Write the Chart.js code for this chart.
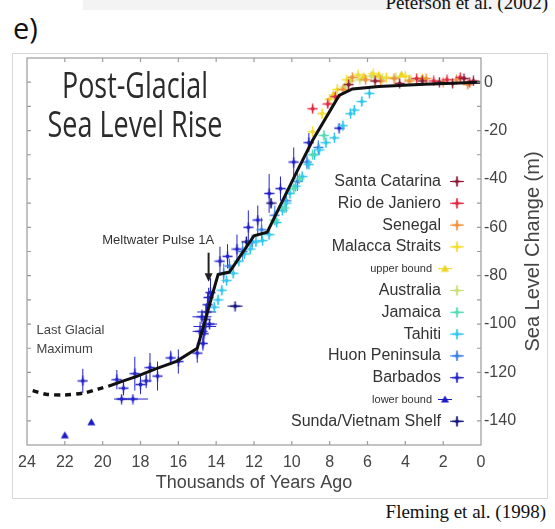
<!DOCTYPE html>
<html>
<head>
<meta charset="utf-8">
<script src="https://cdn.jsdelivr.net/npm/chart.js@4.4.1/dist/chart.umd.min.js"></script>
<style>
  html, body { margin: 0; padding: 0; background: #fff; }
  #wrap { position: relative; width: 555px; height: 529px; overflow: hidden; }
  #frame { position: absolute; left: 12px; top: 53px; width: 536px; height: 446px; border: 1px solid #d6d6d6; box-sizing: border-box; }
  #topband { position: absolute; left: 83px; top: 0; width: 465px; height: 10px; background: #f3f3f3; }
  .cap { position: absolute; font-family: 'Liberation Serif', serif; font-size: 19px; line-height: 1; color: #111; white-space: nowrap; }
  #peterson { right: 7px; top: -7px; }
  #fleming { right: 9px; top: 502px; }
  #panel { position: absolute; left: 13px; top: 13px; font-family: 'Open Sans', sans-serif; font-size: 29px; line-height: 1; color: #111; }
  #chartbox { position: absolute; left: 0; top: 0; width: 555px; height: 529px; }
</style>
</head>
<body>
<div id="wrap">
  <div id="topband"></div>
  <div class="cap" id="peterson">Peterson et al. (2002)</div>
  <div id="panel">e)</div>
  <div id="frame"></div>
  <div class="cap" id="fleming">Fleming et al. (1998)</div>
  <div id="chartbox"><canvas id="chart"></canvas></div>
</div>
<script>
// ages in thousands of years ago, levels in metres: [age, level, levelError, ageError]
const santaCatarina = [[7.0, -1, 1], [5.6, 0.5, 1], [4.3, -0.5, 1], [3.1, 0.5, 1], [2.2, 0, 1], [1.5, -0.5, 1], [0.9, 1.5, 1], [0.4, 0.5, 1]];
const rioDeJaniero = [[8.9, -11, 1.5], [8.1, -9, 1.5], [7.7, -6, 1.5], [3.4, 1.5, 1], [2.5, 0.5, 1], [1.8, 1, 1], [1.1, 2, 1], [0.6, 0, 1]];
const senegal = [[7.3, -3, 1], [6.8, 2, 1], [6.1, 1, 1], [5.3, 0.5, 1], [4.6, 1.5, 1], [3.8, 0.5, 1], [2.9, 1.5, 1], [2.0, 0, 1], [1.3, 1, 1], [0.7, -1, 1]];
const malaccaStraits = [[8.9, -20.5, 2], [8.4, -13, 2], [8.0, -7, 2], [7.6, -3, 2], [7.1, 1, 1], [6.5, 3, 1], [5.7, 3.5, 1], [5.0, 2, 1], [4.0, 2.5, 1]];
const upperBound = [[7.8, -5], [6.2, 2.5], [5.4, 3], [4.2, 3.2], [3.1, 2]];
const australia = [[7.2, -2, 1], [6.9, 0.5, 1], [6.4, 1, 1], [5.8, 2.5, 1], [5.2, 1.5, 1], [4.5, 2, 1], [3.7, 1, 1]];
const jamaica = [[10.9, -57, 2], [10.4, -52, 2], [9.9, -44, 2], [9.6, -40, 2], [8.9, -30, 2], [8.3, -22, 2]];
const tahiti = [[14.1, -93, 2], [13.9, -90, 2], [13.7, -86, 2], [13.45, -82, 2], [13.1, -79, 2], [12.8, -74, 2], [12.5, -71, 2],
  [12.2, -69, 2], [11.9, -66, 2], [11.55, -65.5, 2], [11.2, -63, 2], [10.8, -58, 2], [10.5, -53, 2], [10.3, -50, 2],
  [10.1, -46, 2], [9.8, -43, 2], [9.45, -39, 2], [9.1, -34, 2], [8.8, -30, 2], [8.55, -28, 2], [8.2, -25, 2],
  [7.75, -23, 2], [7.3, -18, 2], [6.9, -13, 2], [6.7, -11.5, 2], [6.3, -8, 2], [5.9, -4.6, 2]];
const huonPeninsula = [[13.6, -79, 4], [13.3, -76, 3], [12.6, -70, 4], [12.1, -66, 3], [11.6, -61, 5], [10.9, -55, 4],
  [10.3, -49, 5], [9.7, -41, 4], [9.2, -33, 3], [8.6, -27, 3]];
const barbados = [[21.05, -123.5, 5], [19.25, -123, 4], [18.9, -126.5, 3], [19.0, -131, 1, 0.4], [18.4, -131, 1, 0.8],
  [18.3, -120.5, 7], [18.0, -125, 4], [17.7, -123.5, 3], [17.1, -121.5, 6], [17.5, -118, 6], [16.4, -114, 3],
  [16.0, -115.5, 5], [15.0, -112, 4], [14.85, -103, 4, 0.4], [14.75, -97, 3, 0.5], [14.7, -108, 3], [14.65, -104, 5],
  [14.6, -101, 4, 0.6], [14.55, -98, 6], [14.5, -95, 3, 0.5], [14.45, -92, 5], [14.4, -89, 4], [14.35, -100, 2, 0.4],
  [14.3, -87, 6], [13.8, -74, 6], [13.4, -72, 5], [12.9, -69, 6], [12.3, -60, 7], [11.8, -57, 6], [11.2, -46, 8],
  [10.6, -44, 5], [9.9, -33, 6], [9.1, -25, 4], [7.5, -19, 0]];
const lowerBound = [[22.0, -146], [20.6, -140.6]];
const sundaShelf = [[13.0, -92.6, 0, 0.4], [12.4, -66, 2], [11.1, -50, 2]];

const siteNames = ['Santa Catarina', 'Rio de Janiero', 'Senegal', 'Malacca Straits', 'upper bound', 'Australia',
  'Jamaica', 'Tahiti', 'Huon Peninsula', 'Barbados', 'lower bound', 'Sunda/Vietnam Shelf'];
const siteColors = ['#8e1d36', '#e02840', '#f0923a', '#f2dc2a', '#eed31e', '#c8df72',
  '#55dcb4', '#33c8ee', '#3a80e0', '#2424c8', '#1a1ac8', '#16167c'];
const siteData = [santaCatarina, rioDeJaniero, senegal, malaccaStraits, upperBound, australia,
  jamaica, tahiti, huonPeninsula, barbados, lowerBound, sundaShelf];

// fitted sea level curve
const curveAge = [19.7, 18.9, 18.2, 17.2, 16.1, 15.0, 13.9, 13.3, 12.0, 11.3, 9.8, 8.9, 7.5, 6.8, 5.4, 3.0, 0.05];
const curveLevel = [-125.7, -123.5, -121.6, -118.5, -115.4, -110, -79.5, -78.5, -63.5, -62, -38, -24, -5.5, -2.8, -1.8, -0.9, 0];
const lgmAge = [23.7, 23.0, 22.0, 21.0, 20.2, 19.7];
const lgmLevel = [-127.5, -129, -129.3, -128.5, -126.8, -125.7];

const xTicks = [24, 22, 20, 18, 16, 14, 12, 10, 8, 6, 4, 2, 0];
const yTicks = [0, -20, -40, -60, -80, -100, -120, -140];

const LABEL_FONT = "'Liberation Sans', Arial, sans-serif";

function isBound(name) {
  return name.endsWith('bound');
}

function makeMarker(color, bound) {
  const c = document.createElement('canvas');
  c.width = 11;
  c.height = 11;
  const g = c.getContext('2d');
  g.strokeStyle = color;
  g.fillStyle = color;
  g.lineWidth = 1.4;
  if (bound) {
    g.beginPath();
    g.moveTo(5.5, 1.5);
    g.lineTo(9.5, 8.5);
    g.lineTo(1.5, 8.5);
    g.closePath();
    g.fill();
  } else {
    g.beginPath();
    g.moveTo(0.5, 5.5);
    g.lineTo(10.5, 5.5);
    g.moveTo(5.5, 0.5);
    g.lineTo(5.5, 10.5);
    g.stroke();
    g.beginPath();
    g.arc(5.5, 5.5, 2, 0, Math.PI * 2);
    g.fill();
  }
  return c;
}

const siteDatasets = siteNames.map((name, i) => ({
  type: 'scatter',
  label: name,
  data: siteData[i].map(([x, y]) => ({ x, y })),
  errY: siteData[i].map((row) => row[2] || 0),
  errX: siteData[i].map((row) => row[3] || 0),
  borderColor: siteColors[i],
  backgroundColor: siteColors[i],
  pointStyle: makeMarker(siteColors[i], isBound(name)),
  pointRadius: 4,
  order: 2,
}));

const errorBarPlugin = {
  id: 'errorBars',
  beforeDatasetsDraw(chart) {
    const { ctx } = chart;
    const xs = chart.scales.x;
    const ys = chart.scales.y;
    ctx.save();
    ctx.lineWidth = 1;
    chart.data.datasets.forEach((ds) => {
      if (!ds.errY) return;
      ctx.strokeStyle = ds.borderColor;
      ds.data.forEach((p, j) => {
        const px = xs.getPixelForValue(p.x);
        const py = ys.getPixelForValue(p.y);
        ctx.beginPath();
        if (ds.errY[j]) {
          ctx.moveTo(px, ys.getPixelForValue(p.y - ds.errY[j]));
          ctx.lineTo(px, ys.getPixelForValue(p.y + ds.errY[j]));
        }
        if (ds.errX[j]) {
          ctx.moveTo(xs.getPixelForValue(p.x - ds.errX[j]), py);
          ctx.lineTo(xs.getPixelForValue(p.x + ds.errX[j]), py);
        }
        ctx.stroke();
      });
    });
    ctx.restore();
  },
};

const decorPlugin = {
  id: 'decor',
  afterDraw(chart) {
    const { ctx, chartArea } = chart;
    const xs = chart.scales.x;
    const ys = chart.scales.y;
    const { left, right, top, bottom } = chartArea;
    ctx.save();

    // frame and inward ticks
    ctx.strokeStyle = '#9c9c9c';
    ctx.lineWidth = 1.2;
    ctx.strokeRect(left, top, right - left, bottom - top);
    ctx.beginPath();
    for (let v = 22; v > 0; v -= 2) {
      const px = xs.getPixelForValue(v);
      ctx.moveTo(px, bottom);
      ctx.lineTo(px, bottom - 4);
      ctx.moveTo(px, top);
      ctx.lineTo(px, top + 4);
    }
    for (let v = 0; v > -150; v -= 10) {
      const py = ys.getPixelForValue(v);
      ctx.moveTo(left, py);
      ctx.lineTo(left + 4, py);
      ctx.moveTo(right, py);
      ctx.lineTo(right - 4, py);
    }
    ctx.stroke();

    // title
    ctx.fillStyle = '#2b2b2b';
    ctx.textAlign = 'center';
    ctx.textBaseline = 'alphabetic';
    ctx.font = "36px 'Open Sans', sans-serif";
    ctx.fillText('Post-Glacial', left + 108, top + 40, 146);
    ctx.fillText('Sea Level Rise', left + 108, top + 79, 175);

    // annotations
    ctx.fillStyle = '#333';
    ctx.font = `13px ${LABEL_FONT}`;
    ctx.textAlign = 'right';
    ctx.fillText('Meltwater Pulse 1A', xs.getPixelForValue(14.1), ys.getPixelForValue(-67));
    const ax = xs.getPixelForValue(14.4);
    ctx.strokeStyle = '#222';
    ctx.lineWidth = 2;
    ctx.beginPath();
    ctx.moveTo(ax, ys.getPixelForValue(-70.5));
    ctx.lineTo(ax, ys.getPixelForValue(-80));
    ctx.stroke();
    ctx.fillStyle = '#222';
    ctx.beginPath();
    ctx.moveTo(ax - 4, ys.getPixelForValue(-79));
    ctx.lineTo(ax + 4, ys.getPixelForValue(-79));
    ctx.lineTo(ax, ys.getPixelForValue(-82.5));
    ctx.closePath();
    ctx.fill();
    ctx.fillStyle = '#444';
    ctx.textAlign = 'left';
    ctx.fillText('Last Glacial', xs.getPixelForValue(23.5), ys.getPixelForValue(-104));
    ctx.fillText('Maximum', xs.getPixelForValue(23.5), ys.getPixelForValue(-112));

    // y axis title
    ctx.save();
    ctx.translate(right + 52, (top + bottom) / 2);
    ctx.rotate(-Math.PI / 2);
    ctx.fillStyle = '#444';
    ctx.textAlign = 'center';
    ctx.textBaseline = 'middle';
    ctx.font = `20px ${LABEL_FONT}`;
    ctx.fillText('Sea Level Change (m)', 0, 0);
    ctx.restore();

    // legend
    ctx.textBaseline = 'middle';
    ctx.textAlign = 'right';
    chart.data.datasets.filter((ds) => ds.type === 'scatter').forEach((ds, i) => {
      const y = top + 123.5 + i * 21.8;
      const bound = isBound(ds.label);
      const mx = bound ? right - 36 : right - 24;
      ctx.fillStyle = '#333';
      ctx.font = bound ? `11px ${LABEL_FONT}` : `16px ${LABEL_FONT}`;
      ctx.fillText(ds.label, bound ? right - 49 : right - 40, y);
      ctx.strokeStyle = ds.borderColor;
      ctx.lineWidth = 1;
      ctx.beginPath();
      ctx.moveTo(mx - 7, y);
      ctx.lineTo(mx + 7, y);
      if (!bound) {
        ctx.moveTo(mx, y - 5);
        ctx.lineTo(mx, y + 5);
      }
      ctx.stroke();
      ctx.drawImage(ds.pointStyle, mx - 5.5, y - 5.5);
    });
    ctx.restore();
  },
};

new Chart(document.getElementById('chart'), {
  type: 'scatter',
  data: {
    datasets: [
      {
        type: 'line',
        label: 'curve',
        data: curveAge.map((x, i) => ({ x, y: curveLevel[i] })),
        borderColor: '#111',
        borderWidth: 3,
        pointRadius: 0,
        tension: 0,
        order: 0,
      },
      {
        type: 'line',
        label: 'lgm',
        data: lgmAge.map((x, i) => ({ x, y: lgmLevel[i] })),
        borderColor: '#111',
        borderWidth: 3.5,
        borderDash: [6, 5],
        pointRadius: 0,
        tension: 0.3,
        order: 0,
      },
      ...siteDatasets,
    ],
  },
  options: {
    responsive: true,
    maintainAspectRatio: false,
    animation: false,
    layout: { padding: { left: 27, top: 58, right: 0, bottom: 0 } },
    plugins: {
      legend: { display: false },
      tooltip: { enabled: false },
    },
    scales: {
      x: {
        type: 'linear',
        position: 'bottom',
        min: 0,
        max: 24,
        reverse: true,
        afterFit: (scale) => { scale.height = 84; },
        afterBuildTicks: (scale) => { scale.ticks = xTicks.map((value) => ({ value })); },
        grid: { display: false, drawTicks: false },
        border: { display: false },
        ticks: { padding: 8, color: '#444', font: { family: LABEL_FONT, size: 16 } },
        title: {
          display: true,
          text: 'Thousands of Years Ago',
          color: '#444',
          font: { family: LABEL_FONT, size: 18 },
          padding: { top: 0, bottom: 35 },
        },
      },
      y: {
        type: 'linear',
        position: 'right',
        min: -150,
        max: 10,
        afterFit: (scale) => { scale.width = 74; },
        afterBuildTicks: (scale) => { scale.ticks = yTicks.map((value) => ({ value })); },
        grid: { display: false, drawTicks: false },
        border: { display: false },
        ticks: {
          padding: 3,
          color: '#444',
          font: { family: LABEL_FONT, size: 16 },
          callback: (v) => String(v),
        },
      },
    },
  },
  plugins: [errorBarPlugin, decorPlugin],
});
</script>
</body>
</html>
